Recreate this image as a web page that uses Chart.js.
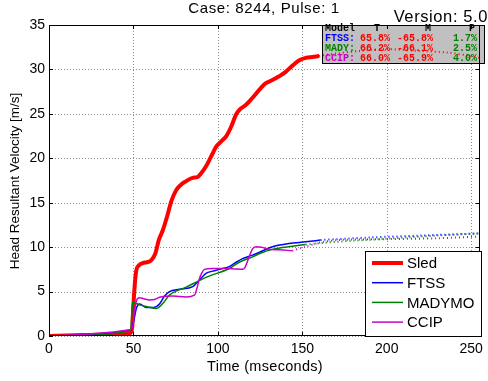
<!DOCTYPE html>
<html>
<head>
<meta charset="utf-8">
<script src="https://cdn.jsdelivr.net/npm/chart.js@4"></script>
<style>
  html, body { margin: 0; padding: 0; background: #fff; }
  #wrap { width: 488px; height: 381px; position: relative; }
</style>
</head>
<body>
<div id="wrap"><canvas id="velocity-chart" width="488" height="381"></canvas></div>
<script>
// time (ms) / velocity (m/s)
const sledTime = [0, 10, 20, 30, 40, 48, 49.3, 50, 50.8, 51.7, 53, 55.5, 58, 60.5, 63, 65, 67.4, 70, 72.5, 75.3, 78, 81, 85, 88, 90, 93, 96, 99, 102, 105, 108, 110.7, 113, 116.5, 120, 125.4, 128, 132.3, 136, 140, 144, 148, 152, 156, 160];
const sledVel = [0, 0.05, 0.1, 0.15, 0.2, 0.3, 1.0, 3.5, 5.8, 7.4, 7.9, 8.2, 8.3, 8.5, 9.3, 10.8, 11.9, 13.5, 15.2, 16.4, 17.0, 17.4, 17.8, 17.9, 18.3, 19.1, 20.2, 21.3, 21.9, 22.5, 23.6, 24.9, 25.5, 26.0, 26.7, 27.9, 28.4, 28.8, 29.2, 29.7, 30.4, 31.0, 31.3, 31.4, 31.5];
const sledTailTime = [160, 170, 185, 199, 217, 236, 250, 255];
const sledTailVel = [31.5, 31.8, 32.1, 32.3, 32.1, 31.9, 31.5, 31.3];

const ftssTime = [0, 48.7, 49.5, 50.5, 51.7, 53.7, 57.6, 62, 65.4, 68.4, 71.3, 77.2, 85.1, 89, 93, 96.9, 100.8, 106.7, 110, 114.6, 120.5, 124.4, 132.3, 142.1, 152, 160.8];
const ftssVel = [0, 0.7, 1.2, 2.0, 3.1, 3.6, 3.2, 3.2, 3.6, 4.5, 5.0, 5.25, 5.55, 6.3, 7.05, 7.3, 7.5, 7.8, 8.2, 8.7, 9.1, 9.4, 10.05, 10.4, 10.6, 10.8];
const ftssTailTime = [160.8, 191.3, 220, 255];
const ftssTailVel = [10.8, 11.1, 11.3, 11.55];

const madyTime = [0, 48.5, 49, 49.5, 53.7, 58, 63.5, 68, 71.3, 81.2, 93, 106.7, 112.6, 120.5, 124.4, 132.3, 144.1, 152];
const madyVel = [0, 0.6, 2.5, 3.8, 3.5, 3.3, 3.1, 3.8, 4.6, 5.5, 6.6, 7.6, 8.3, 8.9, 9.25, 9.75, 10.1, 10.3];
const madyTailTime = [152, 170, 200, 230, 255];
const madyTailVel = [10.3, 10.6, 10.95, 11.3, 11.55];

const ccipTime = [0, 48, 49.5, 50.7, 51.8, 53.7, 56, 59.5, 62.5, 65.4, 73.3, 81.2, 86.1, 87.5, 89, 90.5, 92, 96.9, 104.7, 110, 114.6, 116, 118.5, 120.5, 122.5, 126, 130.3, 136.2, 144.1];
const ccipVel = [0, 0.7, 1.0, 2.9, 4.0, 4.3, 4.2, 4.05, 4.1, 4.35, 4.5, 4.4, 4.6, 5.3, 6.4, 7.1, 7.5, 7.6, 7.6, 7.55, 7.5, 7.7, 8.9, 9.8, 10.05, 10.0, 9.75, 9.7, 9.6];
const ccipTailTime = [144.1, 152, 160, 171.6, 201, 230, 255];
const ccipTailVel = [9.6, 10.05, 10.5, 10.8, 10.9, 11.0, 11.2];

const xTicks = [0, 50, 100, 150, 200, 250];
const yTicks = [0, 5, 10, 15, 20, 25, 30, 35];

const tableHead = ['Model', 'T', 'M', 'P'];
const tableRows = [
  ['FTSS:', '65.8%', '-65.8%', '1.7%'],
  ['MADY:', '66.2%', '-66.1%', '2.5%'],
  ['CCIP:', '66.0%', '-65.9%', '4.0%']
];

const RED = '#ff0000', BLUE = '#0000ff', GREEN = '#008000', MAG = '#cc00cc';
const SANS = '"Liberation Sans", Arial, Helvetica, sans-serif';
const MONO = '"Liberation Mono", "Courier New", monospace';

const pts = (t, v) => t.map((x, i) => ({x: x, y: v[i]}));

function line(label, t, v, color, width, order) {
  return {
    label: label, data: pts(t, v), borderColor: color, backgroundColor: color,
    borderWidth: width, pointRadius: 0, cubicInterpolationMode: 'monotone',
    fill: false, order: order
  };
}
function tail(t, v, color, order) {
  return {
    label: '', data: pts(t, v), borderColor: color, backgroundColor: color,
    borderWidth: 2, borderDash: [1, 3], pointRadius: 0, tension: 0.3,
    fill: false, order: order
  };
}

const legendItems = [
  ['Sled', RED, 4], ['FTSS', BLUE, 1.5], ['MADYMO', GREEN, 1.5], ['CCIP', MAG, 1.5]
];

const decorPlugin = {
  id: 'decor',
  beforeDatasetsDraw(chart) {
    const ctx = chart.ctx;
    const a = chart.chartArea;
    const xs = chart.scales.x, ys = chart.scales.y;
    // dotted grid
    ctx.save();
    ctx.strokeStyle = '#8a8a8a';
    ctx.lineWidth = 1;
    ctx.setLineDash([1, 2]);
    ctx.beginPath();
    xTicks.forEach(v => {
      const x = Math.round(xs.getPixelForValue(v)) + 0.5;
      ctx.moveTo(x, a.top); ctx.lineTo(x, a.bottom);
    });
    yTicks.forEach(v => {
      const y = Math.round(ys.getPixelForValue(v)) + 0.5;
      ctx.moveTo(a.left, y); ctx.lineTo(a.right, y);
    });
    ctx.stroke();
    ctx.restore();

    // stats table, drawn under the curves
    const bx = 322, by = 25, bw = 162, bh = 38;
    ctx.save();
    ctx.fillStyle = '#c0c0c0';
    ctx.fillRect(bx, by, bw, bh);
    ctx.strokeStyle = '#000';
    ctx.lineWidth = 1;
    ctx.strokeRect(bx + 0.5, by + 0.5, bw, bh);
    ctx.font = 'bold 10px ' + MONO;
    ctx.textBaseline = 'middle';
    ctx.fillStyle = '#000';
    ctx.textAlign = 'left';
    ctx.fillText(tableHead[0], 325, 28);
    ctx.textAlign = 'center';
    ctx.fillText(tableHead[1], 377, 28);
    ctx.fillText(tableHead[2], 428, 28);
    ctx.fillText(tableHead[3], 472, 28);
    const nameCol = [BLUE, GREEN, MAG];
    tableRows.forEach((r, i) => {
      const y = 38.5 + i * 10;
      ctx.textAlign = 'left';
      ctx.fillStyle = nameCol[i];
      ctx.fillText(r[0], 325, y);
      ctx.textAlign = 'right';
      ctx.fillStyle = RED;
      ctx.fillText(r[1], 390, y);
      ctx.fillText(r[2], 433, y);
      ctx.fillStyle = GREEN;
      ctx.fillText(r[3], 477, y);
    });
    ctx.restore();
  },
  afterDraw(chart) {
    const ctx = chart.ctx;
    const a = chart.chartArea;
    const xs = chart.scales.x, ys = chart.scales.y;
    ctx.save();
    // axes box + inward ticks
    ctx.strokeStyle = '#000';
    ctx.lineWidth = 1;
    ctx.strokeRect(Math.round(a.left) + 0.5, Math.round(a.top) + 0.5,
      Math.round(a.right - a.left) - 1, Math.round(a.bottom - a.top) - 1);
    ctx.beginPath();
    xTicks.forEach(v => {
      const x = Math.round(xs.getPixelForValue(v)) + 0.5;
      ctx.moveTo(x, a.bottom); ctx.lineTo(x, a.bottom - 4);
      ctx.moveTo(x, a.top); ctx.lineTo(x, a.top + 4);
    });
    yTicks.forEach(v => {
      const y = Math.round(ys.getPixelForValue(v)) + 0.5;
      ctx.moveTo(a.left, y); ctx.lineTo(a.left + 4, y);
      ctx.moveTo(a.right, y); ctx.lineTo(a.right - 4, y);
    });
    ctx.stroke();

    // legend
    const lx = 365, ly = 251, lw = 116, lh = 85;
    ctx.fillStyle = '#fff';
    ctx.fillRect(lx, ly, lw, lh);
    ctx.strokeRect(lx + 0.5, ly + 0.5, lw, lh);
    ctx.font = '15px ' + SANS;
    ctx.textBaseline = 'middle';
    ctx.textAlign = 'left';
    legendItems.forEach((it, i) => {
      const y = 263 + i * 19.7;
      ctx.strokeStyle = it[1];
      ctx.lineWidth = it[2];
      ctx.beginPath();
      ctx.moveTo(372, y); ctx.lineTo(403, y);
      ctx.stroke();
      ctx.fillStyle = '#000';
      ctx.fillText(it[0], 407, y + 1);
    });

    // titles
    ctx.fillStyle = '#000';
    ctx.textAlign = 'center';
    ctx.letterSpacing = '0.6px';
    ctx.font = '15px ' + SANS;
    ctx.fillText('Case: 8244, Pulse: 1', 264, 9);
    ctx.font = '16.5px ' + SANS;
    ctx.textAlign = 'right';
    ctx.fillText('Version: 5.0', 488, 17);
    ctx.textAlign = 'center';
    ctx.font = '14.5px ' + SANS;
    ctx.letterSpacing = '0.3px';
    ctx.fillText('Time (mseconds)', 265, 367);
    ctx.letterSpacing = '0px';
    ctx.font = '13.5px ' + SANS;
    ctx.translate(15, 181);
    ctx.rotate(-Math.PI / 2);
    ctx.fillText('Head Resultant Velocity [m/s]', 0, 0);
    ctx.restore();
  }
};

const gridStyle = { display: false, drawTicks: false };

new Chart(document.getElementById('velocity-chart'), {
  type: 'line',
  data: {
    datasets: [
      line('Sled', sledTime, sledVel, RED, 4, 4),
      tail(sledTailTime, sledTailVel, RED, 4),
      line('FTSS', ftssTime, ftssVel, BLUE, 1.5, 3),
      tail(ftssTailTime, ftssTailVel, BLUE, 3),
      line('MADYMO', madyTime, madyVel, GREEN, 1.5, 2),
      tail(madyTailTime, madyTailVel, GREEN, 2),
      line('CCIP', ccipTime, ccipVel, MAG, 1.5, 1),
      tail(ccipTailTime, ccipTailVel, MAG, 1)
    ]
  },
  options: {
    responsive: false,
    animation: false,
    layout: { padding: { left: 0, right: 6, top: 25, bottom: 0 } },
    plugins: { legend: { display: false }, title: { display: false }, tooltip: { enabled: false } },
    scales: {
      x: {
        type: 'linear', min: 0, max: 255,
        afterBuildTicks: s => { s.ticks = xTicks.map(v => ({value: v})); },
        afterFit: s => { s.height = 45; },
        grid: gridStyle,
        border: { display: false },
        ticks: { color: '#000', font: { family: SANS, size: 14 }, padding: 5, maxRotation: 0 }
      },
      y: {
        type: 'linear', min: 0, max: 35,
        afterBuildTicks: s => { s.ticks = yTicks.map(v => ({value: v})); },
        afterFit: s => { s.width = 49; },
        grid: gridStyle,
        border: { display: false },
        ticks: { color: '#000', font: { family: SANS, size: 14 }, padding: 4 }
      }
    }
  },
  plugins: [decorPlugin]
});
</script>
</body>
</html>
